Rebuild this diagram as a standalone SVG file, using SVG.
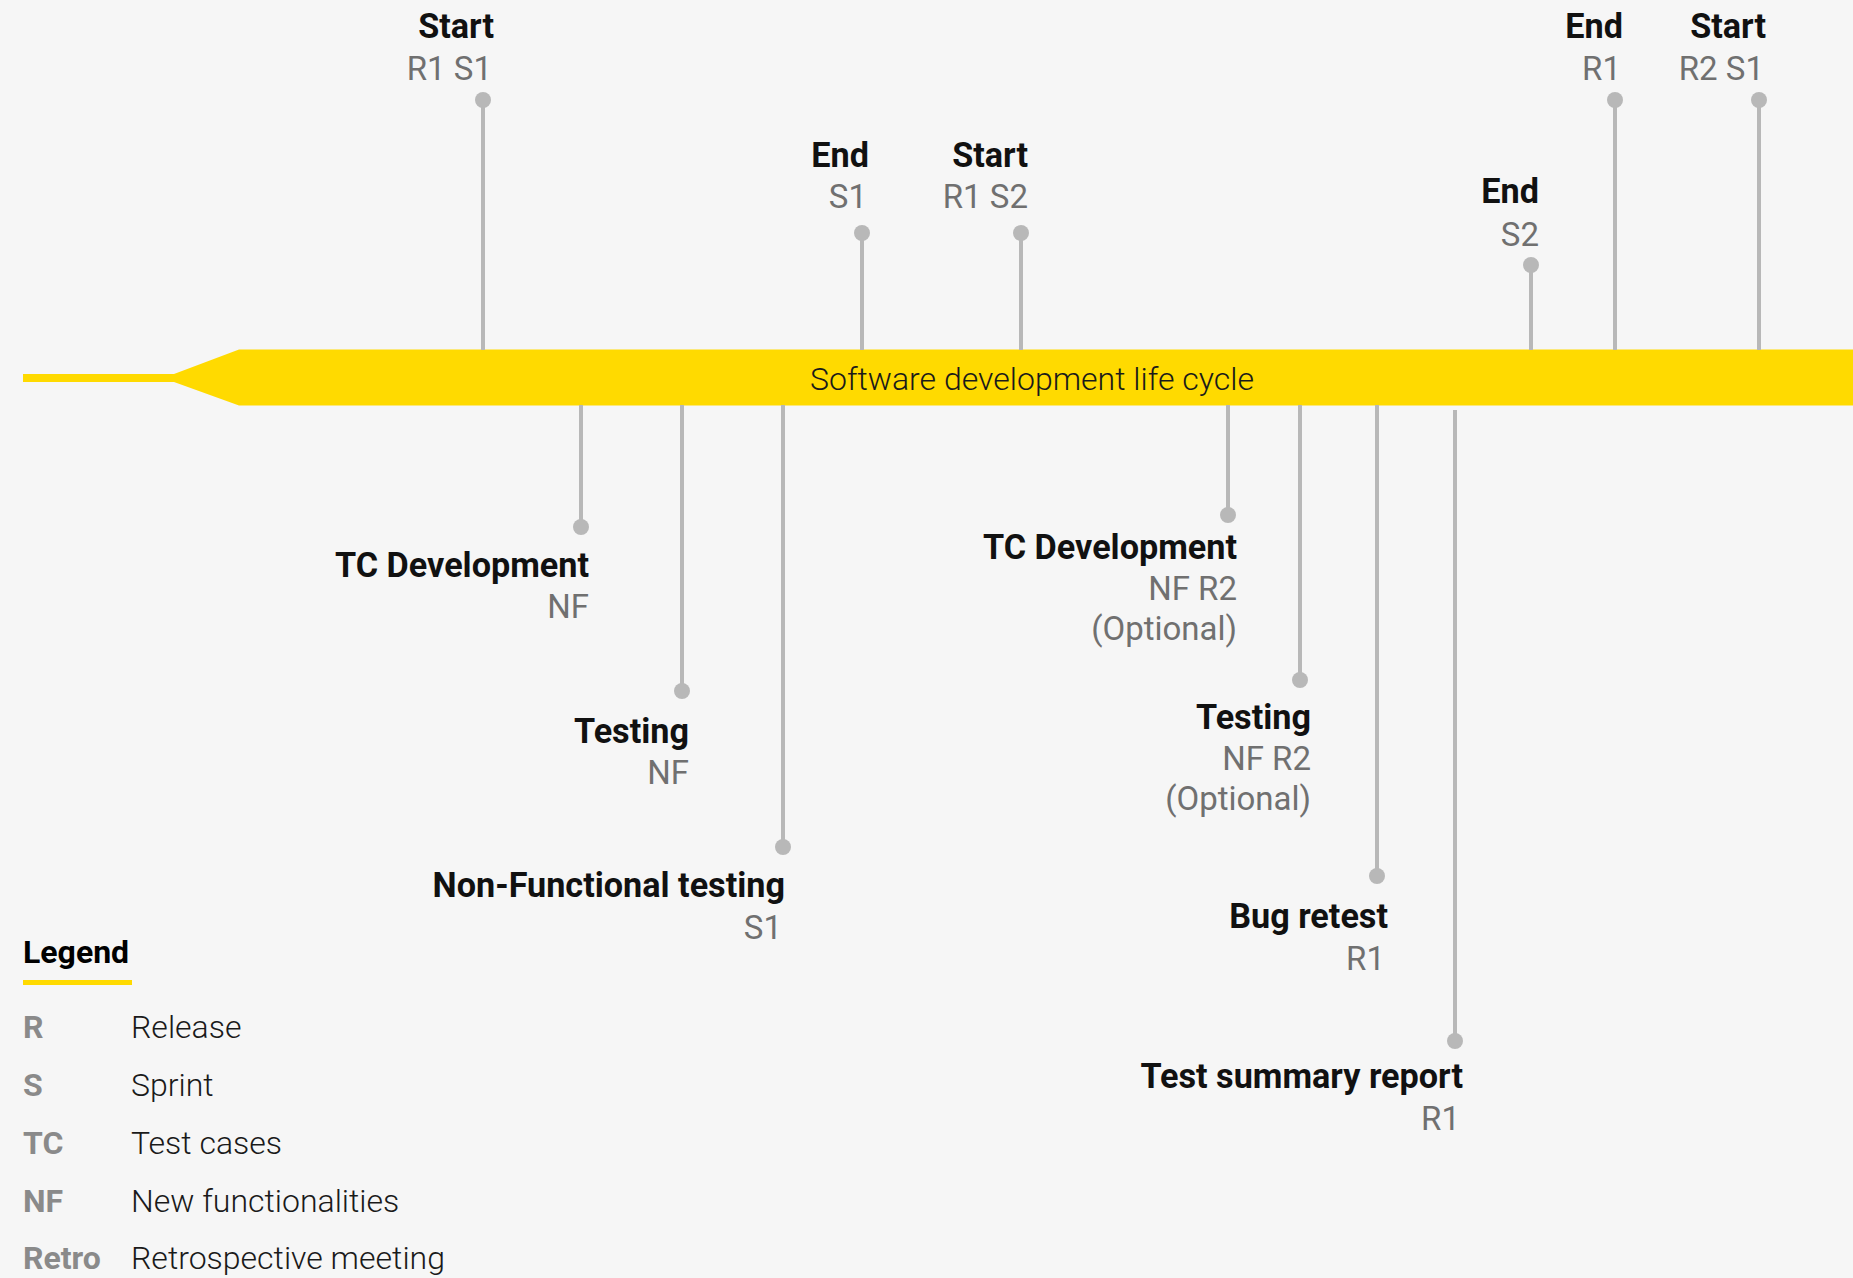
<svg xmlns="http://www.w3.org/2000/svg" width="1853" height="1278" viewBox="0 0 1853 1278">
<style>
.t{font-family:Roboto,"Liberation Sans",sans-serif;font-size:34.2px;font-weight:700;fill:#111;text-anchor:end}
.s{font-family:Roboto,"Liberation Sans",sans-serif;font-size:33px;font-weight:400;fill:#707070;text-anchor:end}
.stem{stroke:#b8b8b8;stroke-width:4;fill:none}
.dot{fill:#b8b8b8}
.band{font-family:Roboto,"Liberation Sans",sans-serif;font-size:32px;font-weight:300;fill:#1a1a1a;text-anchor:middle}
.lk{font-family:Roboto,"Liberation Sans",sans-serif;font-size:32px;font-weight:700;fill:#8a8a8a}
.lv{font-family:Roboto,"Liberation Sans",sans-serif;font-size:32px;font-weight:300;fill:#1a1a1a}
.lh{font-family:Roboto,"Liberation Sans",sans-serif;font-size:32px;font-weight:700;fill:#000}
</style>
<rect width="1853" height="1278" fill="#f6f6f6"/>
<g id="timeline">
<path d="M23,374 H174 L239,349.5 H1853 V405.5 H239 L174,382 H23 Z" fill="#ffda00"/>
<text class="band" x="1032" y="390">Software development life cycle</text>
</g>
<g id="connectors">
<line class="stem" x1="483" y1="100" x2="483" y2="350"/>
<line class="stem" x1="862" y1="233" x2="862" y2="350"/>
<line class="stem" x1="1021" y1="233" x2="1021" y2="350"/>
<line class="stem" x1="1531" y1="265" x2="1531" y2="350"/>
<line class="stem" x1="1615" y1="100" x2="1615" y2="350"/>
<line class="stem" x1="1759" y1="100" x2="1759" y2="350"/>
<line class="stem" x1="581" y1="405" x2="581" y2="527"/>
<line class="stem" x1="682" y1="405" x2="682" y2="691"/>
<line class="stem" x1="783" y1="405" x2="783" y2="847"/>
<line class="stem" x1="1228" y1="405" x2="1228" y2="515"/>
<line class="stem" x1="1300" y1="405" x2="1300" y2="680"/>
<line class="stem" x1="1377" y1="405" x2="1377" y2="876"/>
<line class="stem" x1="1455" y1="410" x2="1455" y2="1041"/>
</g>
<g id="start-r1-s1">
<circle class="dot" cx="483" cy="100" r="8"/>
<text class="t" x="494" y="38">Start</text>
<text class="s" x="492" y="80">R1 S1</text>
</g>
<g id="end-s1">
<circle class="dot" cx="862" cy="233" r="8"/>
<text class="t" x="869" y="167">End</text>
<text class="s" x="867" y="208">S1</text>
</g>
<g id="start-r1-s2">
<circle class="dot" cx="1021" cy="233" r="8"/>
<text class="t" x="1028" y="167">Start</text>
<text class="s" x="1028" y="208">R1 S2</text>
</g>
<g id="end-s2">
<circle class="dot" cx="1531" cy="265" r="8"/>
<text class="t" x="1539" y="203">End</text>
<text class="s" x="1539" y="246">S2</text>
</g>
<g id="end-r1">
<circle class="dot" cx="1615" cy="100" r="8"/>
<text class="t" x="1623" y="38">End</text>
<text class="s" x="1621" y="80">R1</text>
</g>
<g id="start-r2-s1">
<circle class="dot" cx="1759" cy="100" r="8"/>
<text class="t" x="1766" y="38">Start</text>
<text class="s" x="1764" y="80">R2 S1</text>
</g>
<g id="tc-dev-nf">
<circle class="dot" cx="581" cy="527" r="8"/>
<text class="t" x="589" y="577">TC Development</text>
<text class="s" x="589" y="618">NF</text>
</g>
<g id="testing-nf">
<circle class="dot" cx="682" cy="691" r="8"/>
<text class="t" x="689" y="743">Testing</text>
<text class="s" x="689" y="784">NF</text>
</g>
<g id="nf-testing-s1">
<circle class="dot" cx="783" cy="847" r="8"/>
<text class="t" x="785" y="897">Non-Functional testing</text>
<text class="s" x="782" y="939">S1</text>
</g>
<g id="tc-dev-nf-r2">
<circle class="dot" cx="1228" cy="515" r="8"/>
<text class="t" x="1237" y="559">TC Development</text>
<text class="s" x="1237" y="600">NF R2</text>
<text class="s" x="1237" y="640">(Optional)</text>
</g>
<g id="testing-nf-r2">
<circle class="dot" cx="1300" cy="680" r="8"/>
<text class="t" x="1311" y="729">Testing</text>
<text class="s" x="1311" y="770">NF R2</text>
<text class="s" x="1311" y="810">(Optional)</text>
</g>
<g id="bug-retest-r1">
<circle class="dot" cx="1377" cy="876" r="8"/>
<text class="t" x="1388" y="928">Bug retest</text>
<text class="s" x="1385" y="970">R1</text>
</g>
<g id="test-summary-r1">
<circle class="dot" cx="1455" cy="1041" r="8"/>
<text class="t" x="1463" y="1088">Test summary report</text>
<text class="s" x="1460" y="1130">R1</text>
</g>
<g id="legend">
<text class="lh" x="23" y="963">Legend</text>
<rect x="23" y="980" width="109" height="5" fill="#ffda00"/>
<text class="lk" x="23" y="1038">R</text><text class="lv" x="131" y="1038">Release</text>
<text class="lk" x="23" y="1096">S</text><text class="lv" x="131" y="1096">Sprint</text>
<text class="lk" x="23" y="1154">TC</text><text class="lv" x="131" y="1154">Test cases</text>
<text class="lk" x="23" y="1212">NF</text><text class="lv" x="131" y="1212">New functionalities</text>
<text class="lk" x="23" y="1269">Retro</text><text class="lv" x="131" y="1269">Retrospective meeting</text>
</g>
</svg>
